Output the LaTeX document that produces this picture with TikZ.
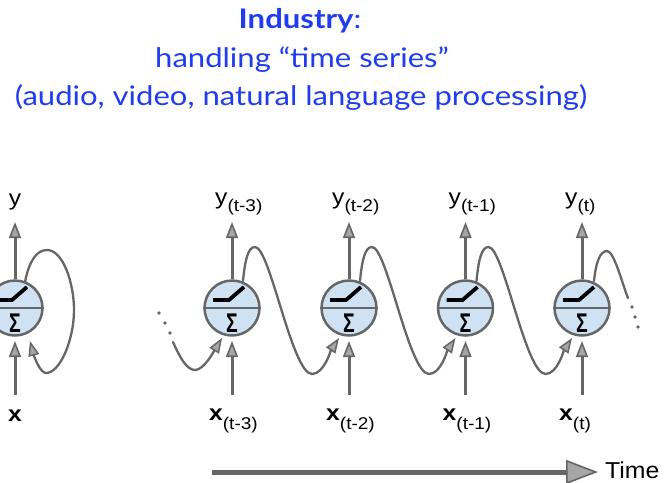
\documentclass[tikz,border=0pt]{standalone}
\usepackage{fontspec}
\setmainfont[FakeStretch=1.15]{Lato}
\newfontfamily\labfont[FakeStretch=1.12]{Liberation Sans}
\newfontfamily\timefont[FakeStretch=1.08]{Liberation Sans}
\newfontfamily\sigfont{Liberation Sans}
\usetikzlibrary{arrows.meta,calc}
\definecolor{ttl}{HTML}{1F3CF0}
\definecolor{ln}{HTML}{666666}
\definecolor{hd}{HTML}{A6A6A6}
\definecolor{cf}{HTML}{CFE2F3}
\begin{document}
\begin{tikzpicture}[x=1pt,y=-1pt,
  neuron/.style={circle, draw=ln, line width=2.5pt, fill=cf, minimum size=55pt, inner sep=0pt},
  arr/.style={draw=ln, line width=3pt, -{Triangle[length=16pt,width=12pt,fill=hd,line width=1.6pt]}},
  wave/.style={draw=ln, line width=2.3pt, line cap=round},
  warr/.style={wave, -{Triangle[length=15pt,width=11pt,fill=hd,line width=1.5pt]}},
  dotc/.style={circle, fill=ln, inner sep=0pt, minimum size=3.6pt},
  lab/.style={inner sep=0pt, anchor=base west, font=\labfont\fontsize{22}{22}\selectfont},
  ttlt/.style={text=ttl, inner sep=0pt, font=\fontsize{27}{30}\selectfont},
]
\useasboundingbox (0,0) rectangle (671,482);
\fill[white] (0,0) rectangle (671,482);

% title
\node[ttlt] (t1) at (300,21) {\textbf{Industry}:};
\node[ttlt] (t2) at (302,60) {handling “time series”};
\node[ttlt] (t3) at (301,97) {(audio, video, natural language processing)};

% neurons
\foreach \i/\cx in {0/15,1/232,2/349,3/465.5,4/582}{
  \node[neuron] (n\i) at (\cx,308) {};
  \draw[ln, line width=2.2pt] (n\i.west) -- (n\i.east);
  \draw[black, line width=3.8pt, line cap=butt, line join=miter] ($(n\i)+(-19,-8)$) -- ($(n\i)+(-3,-8)$) -- ($(n\i)+(12,-21)$);
  \node[inner sep=0pt, font=\sigfont\bfseries\fontsize{27}{27}\selectfont] (s\i) at ($(n\i)+(0,15)$) {\scalebox{0.72}[1]{Σ}};
  \coordinate (yt\i) at ($(n\i)+(0,-86)$);
  \coordinate (xb\i) at ($(n\i)+(0,87)$);
  \coordinate (xt\i) at ($(n\i)+(0,33)$);
  \draw[arr] (n\i.north) -- (yt\i);
  \draw[arr] (xb\i) -- (xt\i);
}

% labels
\node[inner sep=0pt, anchor=base, font=\labfont\fontsize{22}{22}\selectfont] (y0) at (15,205) {y};
\node[inner sep=0pt, anchor=base, font=\labfont\bfseries\fontsize{22}{22}\selectfont] (x0) at (15,421) {x};
\foreach \i/\s in {1/t-3,2/t-2,3/t-1,4/t}{
  \node[lab] (y\i) at ($(n\i)+(-17,-104)$) {y\raisebox{-7pt}{\fontsize{17}{17}\selectfont(\s)}};
  \node[lab] (x\i) at ($(n\i)+(-23,112)$) {\textbf{x}\raisebox{-9pt}{\fontsize{17}{17}\selectfont(\s)}};
}

% self loop
\draw[warr] ($(n0)+(10,-26)$) .. controls ($(n0)+(14,-46)$) and ($(n0)+(21,-58)$) .. ($(n0)+(32,-58)$)
  .. controls ($(n0)+(48,-58)$) and ($(n0)+(59,-25)$) .. ($(n0)+(59,2)$)
  .. controls ($(n0)+(59,32)$) and ($(n0)+(45,65)$) .. ($(n0)+(31,65)$)
  .. controls ($(n0)+(25,65)$) and ($(n0)+(19,48)$) .. ($(n0)+(15,33)$);

% incoming wave from the left
\node[dotc] (d1) at ($(n1)+(-73,5)$) {};
\node[dotc] (d2) at ($(n1)+(-67,15)$) {};
\node[dotc] (d3) at ($(n1)+(-62,25)$) {};
\draw[warr] ($(n1)+(-59,34)$) .. controls ($(n1)+(-52,50)$) and ($(n1)+(-45,62)$) .. ($(n1)+(-37,62)$)
  .. controls ($(n1)+(-28,62)$) and ($(n1)+(-18,43)$) .. ($(n1)+(-10,30)$);

% waves between neurons
\foreach \i/\j in {1/2,2/3,3/4}{
  \draw[warr] ($(n\i)+(11,-27)$) .. controls ($(n\i)+(13,-48)$) and ($(n\i)+(16,-61)$) .. ($(n\i)+(23,-61)$)
    .. controls ($(n\i)+(38,-61)$) and ($(n\i)+(60,66)$) .. ($(n\i)+(80,66)$)
    .. controls ($(n\i)+(92,66)$) and ($(n\j)+(-18,42)$) .. ($(n\j)+(-10,30)$);
}

% outgoing wave
\draw[wave] ($(n4)+(12,-27)$) .. controls ($(n4)+(14,-46)$) and ($(n4)+(18,-57)$) .. ($(n4)+(25,-57)$)
  .. controls ($(n4)+(32,-57)$) and ($(n4)+(40,-25)$) .. ($(n4)+(46,-10)$);
\node[dotc] (e1) at ($(n4)+(50,-1)$) {};
\node[dotc] (e2) at ($(n4)+(53,9)$) {};
\node[dotc] (e3) at ($(n4)+(56,19)$) {};

% time arrow
\node[inner sep=0pt, anchor=west, font=\timefont\fontsize{23}{23}\selectfont] (time) at (605,470) {Time};
\coordinate (ts) at (212,472);
\coordinate (te) at (598,472);
\draw[draw=ln, line width=5pt, -{Triangle[length=32pt,width=24pt,fill=hd,line width=1.6pt]}] (ts) -- (te);
\end{tikzpicture}
\end{document}
